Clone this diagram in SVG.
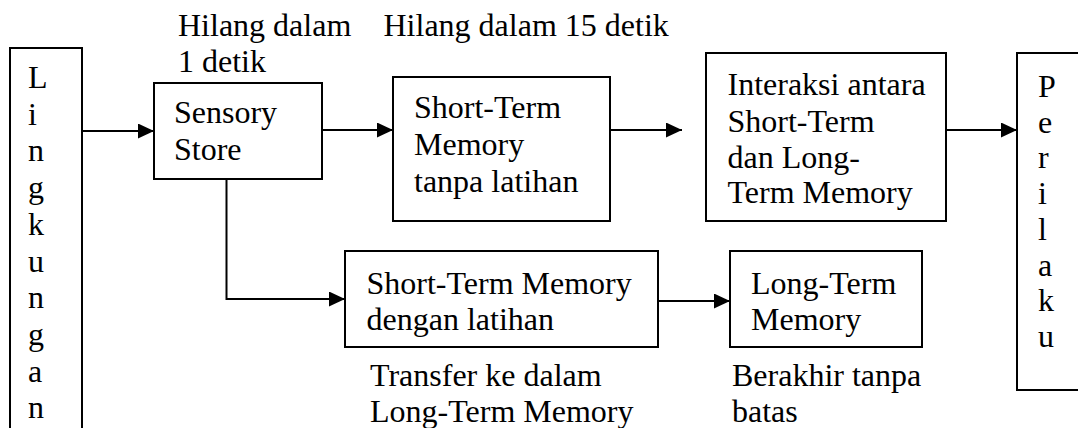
<svg xmlns="http://www.w3.org/2000/svg" width="1078" height="428" viewBox="0 0 1078 428">
<style>
.box{fill:#fff;stroke:#000;stroke-width:2}
.t{font-family:"Liberation Serif","Times New Roman",serif;font-size:32px;fill:#000}
.c{fill:none;stroke:#000;stroke-width:2}
</style>
<defs>
<marker id="ah" markerUnits="userSpaceOnUse" markerWidth="18" markerHeight="16" refX="16" refY="7.5" orient="auto">
<path d="M0,0 L16,7.5 L0,15 Z" fill="#000"/>
</marker>
</defs>
<rect width="1078" height="428" fill="#fff"/>
<g id="connectors">
<line class="c" x1="82" y1="131" x2="154" y2="131" marker-end="url(#ah)"/>
<line class="c" x1="322" y1="130" x2="393" y2="130" marker-end="url(#ah)"/>
<line class="c" x1="610" y1="130" x2="682" y2="130" marker-end="url(#ah)"/>
<line class="c" x1="946" y1="130" x2="1017" y2="130" marker-end="url(#ah)"/>
<polyline class="c" points="226.5,179 226.5,299 345,299" marker-end="url(#ah)"/>
<line class="c" x1="658" y1="301" x2="730" y2="301" marker-end="url(#ah)"/>
</g>
<g id="lingkungan">
<path class="box" d="M10,429 L10,48 L82,48 L82,429"/>
<text class="t" x="28" y="88">L</text>
<text class="t" x="28" y="124.7">i</text>
<text class="t" x="28" y="161.4">n</text>
<text class="t" x="28" y="198.1">g</text>
<text class="t" x="28" y="234.8">k</text>
<text class="t" x="28" y="271.5">u</text>
<text class="t" x="28" y="308.2">n</text>
<text class="t" x="28" y="344.9">g</text>
<text class="t" x="28" y="381.6">a</text>
<text class="t" x="28" y="418.3">n</text>
</g>
<g id="label-sensory">
<text class="t" x="178" y="36">Hilang dalam</text>
<text class="t" x="178" y="71.5">1 detik</text>
</g>
<g id="sensory-store">
<rect class="box" x="154" y="83" width="168" height="96"/>
<text class="t" x="174" y="123">Sensory</text>
<text class="t" x="174" y="160">Store</text>
</g>
<g id="label-stm">
<text class="t" x="383.5" y="36">Hilang dalam 15 detik</text>
</g>
<g id="stm-tanpa">
<rect class="box" x="393" y="77" width="217" height="144"/>
<text class="t" x="414" y="118.3">Short-Term</text>
<text class="t" x="414" y="155">Memory</text>
<text class="t" x="414" y="191.7">tanpa latihan</text>
</g>
<g id="interaksi">
<rect class="box" x="706" y="53" width="240" height="168"/>
<text class="t" x="727.5" y="95">Interaksi antara</text>
<text class="t" x="727.5" y="131.5">Short-Term</text>
<text class="t" x="727.5" y="168">dan Long-</text>
<text class="t" x="727.5" y="203">Term Memory</text>
</g>
<g id="perilaku">
<path class="box" d="M1079,53 L1017,53 L1017,390 L1079,390"/>
<text class="t" x="1038" y="97">P</text>
<text class="t" x="1038" y="132.7">e</text>
<text class="t" x="1038" y="168.4">r</text>
<text class="t" x="1038" y="204">i</text>
<text class="t" x="1038" y="239.8">l</text>
<text class="t" x="1038" y="275.5">a</text>
<text class="t" x="1038" y="311">k</text>
<text class="t" x="1038" y="347">u</text>
</g>
<g id="stm-dengan">
<rect class="box" x="345" y="251" width="313" height="96"/>
<text class="t" x="366.5" y="294">Short-Term Memory</text>
<text class="t" x="366.5" y="330">dengan latihan</text>
</g>
<g id="label-transfer">
<text class="t" x="370" y="386">Transfer ke dalam</text>
<text class="t" x="370" y="421.5">Long-Term Memory</text>
</g>
<g id="ltm">
<rect class="box" x="730" y="251" width="192" height="96"/>
<text class="t" x="751" y="294">Long-Term</text>
<text class="t" x="751" y="330">Memory</text>
</g>
<g id="label-ltm">
<text class="t" x="732" y="386">Berakhir tanpa</text>
<text class="t" x="732" y="421.5">batas</text>
</g>
</svg>
